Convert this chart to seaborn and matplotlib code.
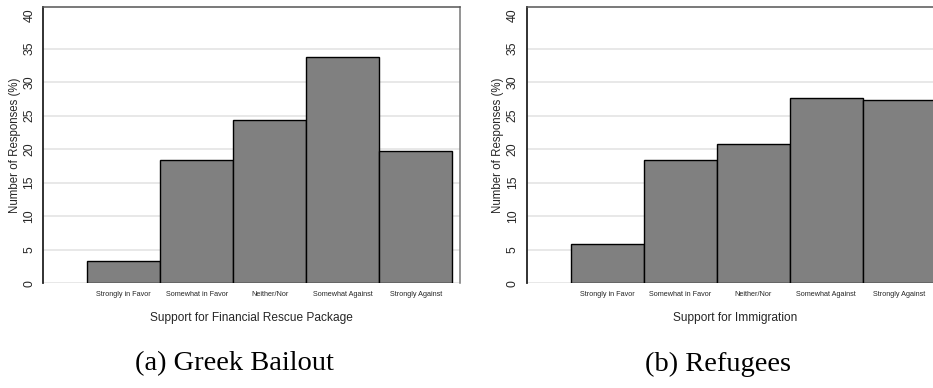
import matplotlib
matplotlib.use("Agg")
import matplotlib.pyplot as plt
import seaborn as sns

# response categories (shared by both panels)
categories = ["Strongly in Favor", "Somewhat in Favor", "Neither/Nor",
              "Somewhat Against", "Strongly Against"]

# % of responses
bailout_pct = [3.4, 18.4, 24.3, 33.8, 19.8]
refugee_pct = [5.9, 18.4, 20.8, 27.6, 27.3]

yticks = [0, 5, 10, 15, 20, 25, 30, 35, 40]
xtitles = ["Support for Financial Rescue Package", "Support for Immigration"]
captions = ["(a) Greek Bailout", "(b) Refugees"]
caption_x = [234, 718]  # px centres of the captions

sns.set_style("white")
plt.rcParams["font.family"] = ["Liberation Sans", "DejaVu Sans"]

fig = plt.figure(figsize=(9.33, 3.88), dpi=100)

# panel boxes in figure fractions; the right one runs off the page like the source
panels = [(0.0464, 0.2698, 0.4466, 0.7113),
          (0.5645, 0.2698, 0.4466, 0.7113)]

for rect, vals, xt, cap, cx in zip(panels, [bailout_pct, refugee_pct], xtitles, captions, caption_x):
    ax = fig.add_axes(rect)
    sns.barplot(x=categories, y=vals, color="#808080", saturation=1,
                width=1, edgecolor="black", linewidth=1.0, ax=ax, zorder=3)

    ax.set_xlim(-1.103, 4.605)
    ax.set_ylim(0, 41.15)
    ax.set_yticks(yticks)
    ax.set_yticklabels([str(t) for t in yticks], rotation=90, va="center", fontsize=8.8)
    ax.tick_params(axis="y", length=3.6, width=0.8, color="#333333", pad=2)
    ax.tick_params(axis="x", length=3, width=0.8, color="#333333", pad=2.5, labelsize=5.2)

    # light horizontal grid, none at the top value
    ax.set_axisbelow(True)
    ax.yaxis.grid(True, color="#e6e6e6", linewidth=1.3)
    ax.get_ygridlines()[-1].set_visible(False)

    for side in ["left", "top", "right", "bottom"]:
        ax.spines[side].set_visible(True)
    ax.spines["left"].set_color("#222222")
    ax.spines["left"].set_linewidth(1.3)
    ax.spines["top"].set_color("#555555")
    ax.spines["top"].set_linewidth(1.1)
    ax.spines["right"].set_color("#777777")
    ax.spines["right"].set_linewidth(1.1)
    ax.spines["bottom"].set_visible(False)

    ax.set_ylabel("Number of Responses (%)", fontsize=8.3, labelpad=2)
    ax.set_xlabel(xt, fontsize=8.6, labelpad=10)

    # caption under each panel
    fig.text(cx / 933, 1 - 364 / 388, cap, ha="center", va="center", color="black",
             fontsize=20.5, family=["Liberation Serif", "DejaVu Serif"])

fig.savefig("out.png", dpi=100)
